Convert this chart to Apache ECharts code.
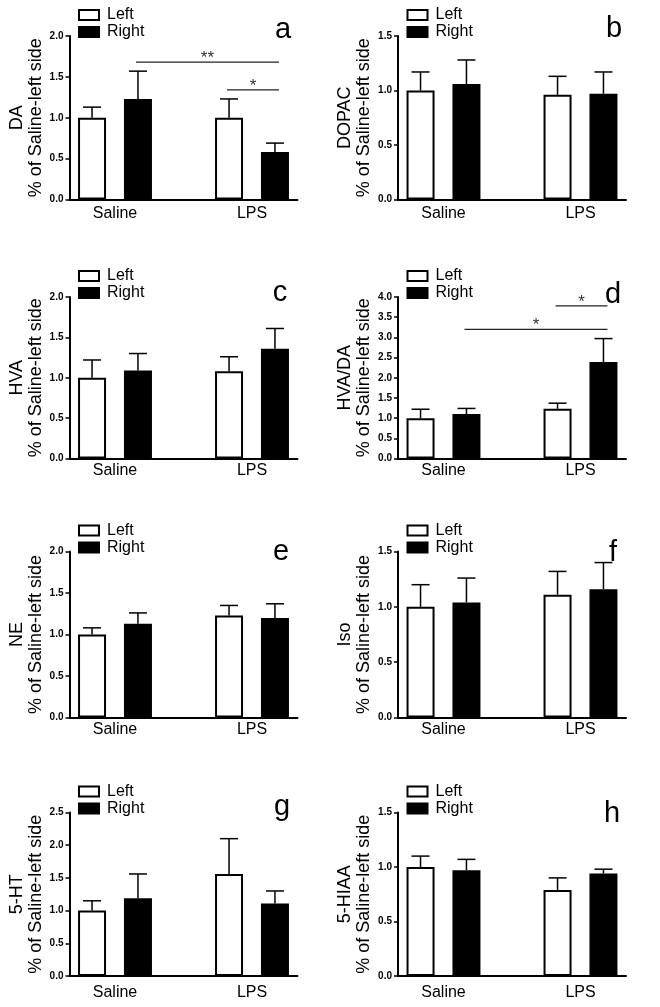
<!DOCTYPE html>
<html><head><meta charset="utf-8">
<script src="https://cdn.jsdelivr.net/npm/echarts@6/dist/echarts.min.js"></script>
<style>html,body{margin:0;padding:0;background:#fff}#chart{width:660px;height:1007px}</style>
</head><body><div id="chart"></div>
<script>
// ---------- data ----------
const categories = ['Saline', 'LPS'];
const seriesNames = ['Left', 'Right'];
const panelLetters = ['a', 'b', 'c', 'd', 'e', 'f', 'g', 'h'];
const analytes = ['DA', 'DOPAC', 'HVA', 'HVA/DA', 'NE', 'Iso', '5-HT', '5-HIAA'];
const yAxisTitle = '% of Saline-left side';
const yMax = [2.0, 1.5, 2.0, 4.0, 2.0, 1.5, 2.5, 1.5];
const yStep = [0.5, 0.5, 0.5, 0.5, 0.5, 0.5, 0.5, 0.5];
// per panel: [Saline, LPS]
const leftMean  = [[1.00, 1.00], [1.00, 0.96], [1.00, 1.08], [1.00, 1.23], [1.00, 1.23], [1.00, 1.11], [1.00, 1.56], [1.00, 0.79]];
const leftSEM   = [[0.13, 0.23], [0.17, 0.17], [0.22, 0.18], [0.22, 0.14], [0.08, 0.12], [0.20, 0.21], [0.15, 0.54], [0.10, 0.11]];
const rightMean = [[1.23, 0.58], [1.06, 0.97], [1.09, 1.36], [1.10, 2.39], [1.13, 1.20], [1.04, 1.16], [1.19, 1.11], [0.97, 0.94]];
const rightSEM  = [[0.34, 0.11], [0.22, 0.20], [0.21, 0.25], [0.14, 0.58], [0.13, 0.17], [0.22, 0.24], [0.37, 0.19], [0.10, 0.04]];
// significance brackets
const sigPanel = [0, 0, 3, 3];
const sigFrom  = [[0, 1], [1, 0], [0, 1], [1, 0]];   // [category, series]
const sigTo    = [[1, 1], [1, 1], [1, 1], [1, 1]];
const sigY     = [1.68, 1.34, 3.20, 3.78];
const sigLabel = ['**', '*', '*', '*'];

// ---------- layout ----------
const colAxisX = [69.5, 398];
const rowTop = [36, 297, 551.5, 812.5];
const rowBottom = [199.5, 458.5, 717.5, 976];
const rowLabelMargin = [6, 4, 4, 9];
const axisLen = 228;
const barW = 28, barGapPct = 0.64;
const barOffset = barW * (1 + barGapPct) / 2;
const letterPos = [[283, 38], [614, 37], [280, 301.5], [613, 303], [281, 560.7], [613, 561.7], [282, 815.7], [612, 822]];
const FONT = '"Liberation Sans", Arial, sans-serif';

const grid = [], xAxis = [], yAxis = [], series = [], legend = [], graphic = [];

for (let i = 0; i < 8; i++) {
  const r = Math.floor(i / 2), c = i % 2;
  const ax = colAxisX[c], top = rowTop[r], h = rowBottom[r] - rowTop[r];
  const gA = 2 * i, gB = 2 * i + 1;
  grid.push({ left: ax, top: top, width: axisLen, height: h, outerBoundsMode: 'none', containLabel: false });
  grid.push({ left: ax - 23, top: top, width: 274, height: h, outerBoundsMode: 'none', containLabel: false });

  xAxis.push({ gridIndex: gA, type: 'category', data: categories,
    axisLine: { show: true, lineStyle: { color: '#000', width: 2 } },
    axisTick: { show: false }, axisLabel: { show: false }, splitLine: { show: false } });
  xAxis.push({ gridIndex: gB, type: 'category', data: categories,
    axisLine: { show: false }, axisTick: { show: false }, splitLine: { show: false },
    axisLabel: { color: '#000', fontSize: 16, fontFamily: FONT, margin: rowLabelMargin[r] } });

  yAxis.push({ gridIndex: gA, type: 'value', min: 0, max: yMax[i], interval: yStep[i],
    axisLine: { show: true, lineStyle: { color: '#000', width: 2 } },
    axisTick: { show: true, length: 4, lineStyle: { color: '#000', width: 1.5 } },
    axisLabel: { color: '#000', fontSize: 10, fontWeight: 'bold', fontFamily: FONT, margin: 6,
      formatter: v => v.toFixed(1) },
    splitLine: { show: false },
    name: analytes[i] + '\n' + yAxisTitle, nameLocation: 'middle', nameGap: 24,
    nameTextStyle: { color: '#000', fontSize: 18, lineHeight: 19, fontFamily: FONT } });
  yAxis.push({ gridIndex: gB, type: 'value', min: 0, max: yMax[i], interval: yStep[i], show: false });

  series.push({ type: 'bar', name: seriesNames[0], xAxisIndex: gB, yAxisIndex: gB,
    data: leftMean[i], barWidth: barW, barGap: (barGapPct * 100) + '%', silent: true,
    itemStyle: { color: '#fff', borderColor: '#000', borderWidth: 2 } });
  series.push({ type: 'bar', name: seriesNames[1], xAxisIndex: gB, yAxisIndex: gB,
    data: rightMean[i], barWidth: barW, barGap: (barGapPct * 100) + '%', silent: true,
    itemStyle: { color: '#000', borderColor: '#000', borderWidth: 2 } });

  const errData = [];
  for (let k = 0; k < 2; k++) {
    errData.push([k, 0, leftMean[i][k], leftMean[i][k] + leftSEM[i][k]]);
    errData.push([k, 1, rightMean[i][k], rightMean[i][k] + rightSEM[i][k]]);
  }
  series.push({ type: 'custom', name: 'err' + i, xAxisIndex: gB, yAxisIndex: gB, silent: true, z: 3,
    data: errData, encode: { x: 0, y: [2, 3] },
    renderItem: function (params, api) {
      const cat = api.value(0), s = api.value(1);
      const p0 = api.coord([cat, api.value(2)]);
      const p1 = api.coord([cat, api.value(3)]);
      const x = p0[0] + (s === 0 ? -barOffset : barOffset);
      return { type: 'group', children: [
        { type: 'line', shape: { x1: x, y1: p0[1], x2: x, y2: p1[1] }, style: { stroke: '#000', lineWidth: 1.5 } },
        { type: 'line', shape: { x1: x - 9, y1: p1[1], x2: x + 9, y2: p1[1] }, style: { stroke: '#000', lineWidth: 1.5 } }
      ] };
    } });

  const sigIdx = [];
  sigPanel.forEach((p, j) => { if (p === i) sigIdx.push(j); });
  if (sigIdx.length) {
    series.push({ type: 'custom', name: 'sig' + i, xAxisIndex: gB, yAxisIndex: gB, silent: true, z: 4,
      data: sigIdx.map(j => [sigFrom[j][0], sigFrom[j][1], sigTo[j][0], sigTo[j][1], sigY[j], j]),
      encode: { x: [0, 2], y: 4 },
      renderItem: function (params, api) {
        const j = api.value(5);
        const a = api.coord([api.value(0), api.value(4)]);
        const b = api.coord([api.value(2), api.value(4)]);
        const xa = a[0] + (api.value(1) === 0 ? -barOffset : barOffset) - 2;
        const xb = b[0] + (api.value(3) === 0 ? -barOffset : barOffset) + 4;
        return { type: 'group', children: [
          { type: 'line', shape: { x1: xa, y1: a[1], x2: xb, y2: b[1] }, style: { stroke: '#222', lineWidth: 1.3 } },
          { type: 'text', x: (xa + xb) / 2, y: a[1] - 4,
            style: { text: sigLabel[j], fill: '#333', fontSize: 17, fontFamily: FONT, align: 'center', verticalAlign: 'middle' } }
        ] };
      } });
  }

  legend.push({ left: ax + 8.5, top: top - 29.5, orient: 'vertical', padding: 0,
    itemWidth: 20, itemHeight: 10, itemGap: 0, selectedMode: false,
    textStyle: { color: '#000', fontSize: 16, lineHeight: 17, fontFamily: FONT, padding: [0, 0, 0, 3] },
    data: [
      { name: seriesNames[0], icon: 'rect', itemStyle: { color: '#fff', borderColor: '#000', borderWidth: 2 } },
      { name: seriesNames[1], icon: 'rect', itemStyle: { color: '#000', borderColor: '#000', borderWidth: 2 } }
    ] });

  graphic.push({ type: 'text', x: letterPos[i][0], y: letterPos[i][1] + 6,
    style: { text: panelLetters[i], fill: '#000', fontSize: 29, fontFamily: FONT, align: 'center', verticalAlign: 'bottom' } });
}

const chart = echarts.init(document.getElementById('chart'), null, { renderer: 'canvas' });
chart.setOption({
  animation: false,
  backgroundColor: '#fff',
  textStyle: { fontFamily: FONT },
  grid, xAxis, yAxis, series, legend, graphic
});
</script>
</body></html>
